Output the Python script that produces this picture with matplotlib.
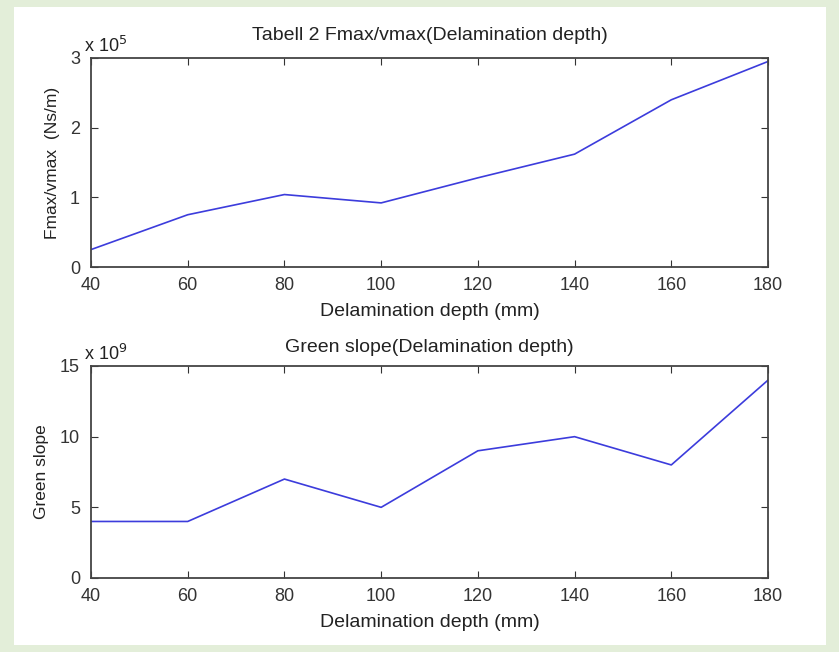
import numpy as np
import matplotlib.pyplot as plt

# Data
depth = [40, 60, 80, 100, 120, 140, 160, 180]
fmax_vmax = [0.25, 0.75, 1.04, 0.92, 1.28, 1.62, 2.40, 2.95]   # x 10^5
green_slope = [4, 4, 7, 5, 9, 10, 8, 14]                         # x 10^9

plt.rcParams['font.family'] = ['Liberation Sans', 'DejaVu Sans']

W, H = 839, 652
fig = plt.figure(figsize=(W / 100, H / 100), dpi=100)
fig.patch.set_facecolor('#e3eed9')

# white panel inside the green frame
bg = fig.add_axes([14 / W, 7 / H, 812 / W, 638 / H], zorder=-10)
bg.set_facecolor('white')
bg.set_xticks([])
bg.set_yticks([])
for s in bg.spines.values():
    s.set_visible(False)

ax1 = fig.add_axes([91 / W, 1 - 267 / H, 677 / W, 209 / H])
ax2 = fig.add_axes([91 / W, 1 - 578 / H, 677 / W, 212 / H])

line_col = '#3c3cdc'
tick_col = '#333333'
txt_col = '#222222'

ax1.plot(depth, fmax_vmax, color=line_col, lw=1.2)
ax1.set_ylim(0, 3)
ax1.set_yticks([0, 1, 2, 3])
ax1.set_title('Tabell 2 Fmax/vmax(Delamination depth)', fontsize=14, color=txt_col, pad=13)
ax1.set_ylabel('Fmax/vmax  (Ns/m)', fontsize=12.5, color=txt_col, labelpad=7)
ax1.text(-0.01, 1.03, r'x 10$^5$', transform=ax1.transAxes, fontsize=13, color=txt_col)

ax2.plot(depth, green_slope, color=line_col, lw=1.2)
ax2.set_ylim(0, 15)
ax2.set_yticks([0, 5, 10, 15])
ax2.set_title('Green slope(Delamination depth)', fontsize=14, color=txt_col, pad=10)
ax2.set_ylabel('Green slope', fontsize=12.5, color=txt_col, labelpad=8)
ax2.text(-0.01, 1.03, r'x 10$^9$', transform=ax2.transAxes, fontsize=13, color=txt_col)

for ax in (ax1, ax2):
    ax.set_xlim(40, 180)
    ax.set_xticks(depth)
    ax.set_xlabel('Delamination depth (mm)', fontsize=14, color=txt_col, labelpad=7)
    ax.tick_params(direction='in', labelsize=13, colors=tick_col, length=5,
                   top=True, right=True)
    ax.tick_params(axis='x', pad=7)
    ax.tick_params(axis='y', pad=8)
    for s in ax.spines.values():
        s.set_color('#444444')
        s.set_linewidth(1.3)

fig.savefig('out.png', dpi=100, facecolor=fig.get_facecolor())
